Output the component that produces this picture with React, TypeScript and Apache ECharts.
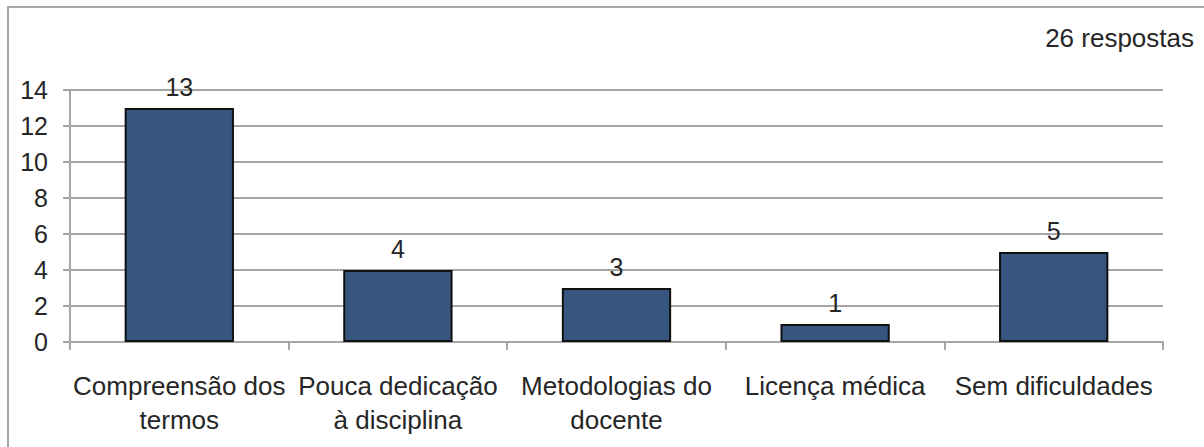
import React, { useEffect, useRef } from "react";
import * as echarts from "echarts";

// Respostas por dificuldade
const categories = [
  "Compreensão dos\ntermos",
  "Pouca dedicação\nà disciplina",
  "Metodologias do\ndocente",
  "Licença médica",
  "Sem dificuldades",
];
const values = [13, 4, 3, 1, 5];
const yTicks = { min: 0, max: 14, interval: 2 };
const totalLabel = "26 respostas";

const FONT = "'Liberation Sans', Arial, sans-serif";
const TEXT = "#262626";
const GRID = "#a6a6a6";

export default function App() {
  const ref = useRef<HTMLDivElement>(null);

  useEffect(() => {
    if (!ref.current) return;
    const chart = echarts.init(ref.current, undefined, { renderer: "svg" });
    chart.setOption({
      animation: false,
      backgroundColor: "#ffffff",
      textStyle: { fontFamily: FONT },
      grid: { left: 70, right: 41, top: 90, bottom: 105, containLabel: false },
      graphic: [
        {
          type: "rect",
          shape: { x: 8, y: 7, width: 1300, height: 600 },
          style: { fill: "none", stroke: "#a8a8a8", lineWidth: 2 },
          silent: true,
        },
        {
          type: "text",
          right: 10,
          top: 25,
          style: {
            text: totalLabel,
            fill: TEXT,
            font: `26px ${FONT}`,
          },
        },
      ],
      xAxis: {
        type: "category",
        data: categories,
        boundaryGap: true,
        axisLine: { show: true, lineStyle: { color: GRID, width: 2 } },
        axisTick: { show: true, length: 8, lineStyle: { color: GRID, width: 2 } },
        axisLabel: {
          color: TEXT,
          fontSize: 26,
          fontFamily: FONT,
          lineHeight: 34,
          margin: 27,
          interval: 0,
        },
        splitLine: { show: false },
      },
      yAxis: {
        type: "value",
        min: yTicks.min,
        max: yTicks.max,
        interval: yTicks.interval,
        axisLine: { show: true, lineStyle: { color: GRID, width: 2 } },
        axisTick: { show: true, length: 7, lineStyle: { color: GRID, width: 2 } },
        axisLabel: { color: TEXT, fontSize: 25, fontFamily: FONT, margin: 22 },
        splitLine: { show: true, lineStyle: { color: GRID, width: 2 } },
      },
      series: [
        {
          type: "bar",
          data: values,
          barWidth: "50%",
          itemStyle: { color: "#36557f", borderColor: "#111111", borderWidth: 2 },
          label: {
            show: true,
            position: "top",
            distance: 9,
            color: TEXT,
            fontSize: 25,
            fontFamily: FONT,
          },
        },
      ],
    });
    return () => chart.dispose();
  }, []);

  return (
    <div
      ref={ref}
      style={{ position: "fixed", left: 0, top: 0, width: 1204, height: 447 }}
    />
  );
}
